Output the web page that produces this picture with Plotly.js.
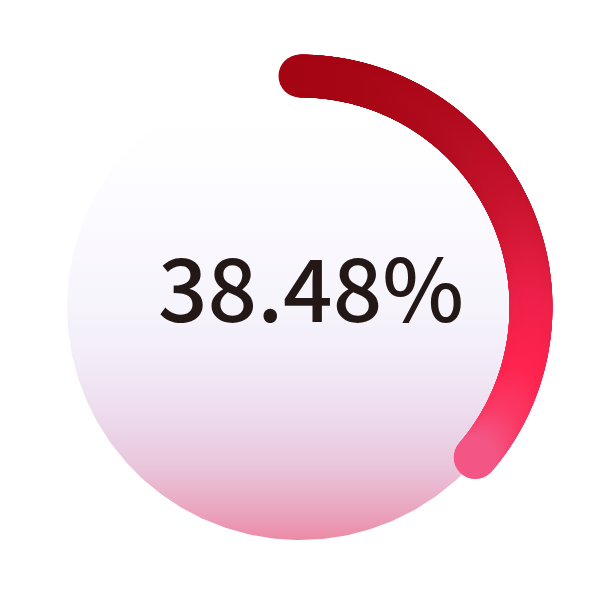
<!DOCTYPE html>
<html>
<head>
<meta charset="utf-8">
<script src="https://cdn.plot.ly/plotly-3.0.1.min.js"></script>
<style>html,body{margin:0;padding:0;background:#fff;}#chart{width:604px;height:600px;}</style>
</head>
<body>
<div id="chart"></div>
<script>
// ---- data ----
const labels = ["38.48%"];          // value shown in the centre
const values = [38.48];             // percentage value
const arcShare = [36.3];            // share of the full ring covered by the drawn arc

// ---- geometry / style ----
const W = 604, H = 600;
const cx = 300, cy = H - 307;       // centre (y axis points up)
const ringR = 231;                  // arc centre-line radius
const discR = 233;                  // background disc radius
const arcWidth = 43;

// disc outline
const discX = [], discY = [];
for (let i = 0; i <= 360; i++) {
  const a = i * Math.PI / 180;
  discX.push(cx + discR * Math.cos(a));
  discY.push(cy + discR * Math.sin(a));
}

// arc as densely packed round markers (gives round caps + gradient)
const sweep = arcShare[0] / 100 * 360;
const N = 500;
const arcX = [], arcY = [], arcC = [];
for (let i = 0; i <= N; i++) {
  const deg = 90 - sweep * i / N;
  const a = deg * Math.PI / 180;
  const x = cx + ringR * Math.cos(a);
  const y = cy + ringR * Math.sin(a);
  arcX.push(x); arcY.push(y);
  arcC.push(H - y);                 // colour by vertical pixel position
}

const disc = {
  type: 'scatter', mode: 'lines', x: discX, y: discY,
  line: {width: 0, color: 'rgba(0,0,0,0)'},
  fill: 'toself',
  fillgradient: {
    type: 'vertical',
    start: cy - discR, stop: cy + discR,
    colorscale: [
      [0, '#ec8aa6'], [0.066, '#eaa6c0'], [0.152, '#e9c4da'], [0.259, '#ecdaec'],
      [0.388, '#f2ecf8'], [0.516, '#f7f5fc'], [0.73, '#fcfbff'], [0.9, '#ffffff'], [1, '#ffffff']
    ]
  },
  hoverinfo: 'skip', showlegend: false
};

const arc = {
  type: 'scatter', mode: 'markers', x: arcX, y: arcY,
  marker: {
    size: arcWidth, color: arcC, cmin: 55, cmax: 480,
    colorscale: [
      [0, '#a1040f'], [0.2, '#b20c20'], [0.4, '#ca1530'], [0.6, '#ec2048'],
      [0.78, '#ff2550'], [0.88, '#fa3a66'], [1, '#ee6a9c']
    ],
    line: {width: 0}, showscale: false
  },
  hoverinfo: 'skip', showlegend: false
};

const layout = {
  width: W, height: H,
  margin: {l: 0, r: 0, t: 0, b: 0},
  paper_bgcolor: '#ffffff', plot_bgcolor: '#ffffff',
  xaxis: {range: [0, W], visible: false, fixedrange: true},
  yaxis: {range: [0, H], visible: false, fixedrange: true},
  annotations: [{
    x: 311, y: H - 284, xref: 'x', yref: 'y',
    text: labels[0], showarrow: false,
    xanchor: 'center', yanchor: 'middle',
    font: {family: '"Noto Sans CJK JP", "Noto Sans", sans-serif', size: 87, weight: 500, color: '#231815'}
  }]
};

Plotly.newPlot('chart', [disc, arc], layout, {displayModeBar: false, staticPlot: true});
</script>
</body>
</html>
